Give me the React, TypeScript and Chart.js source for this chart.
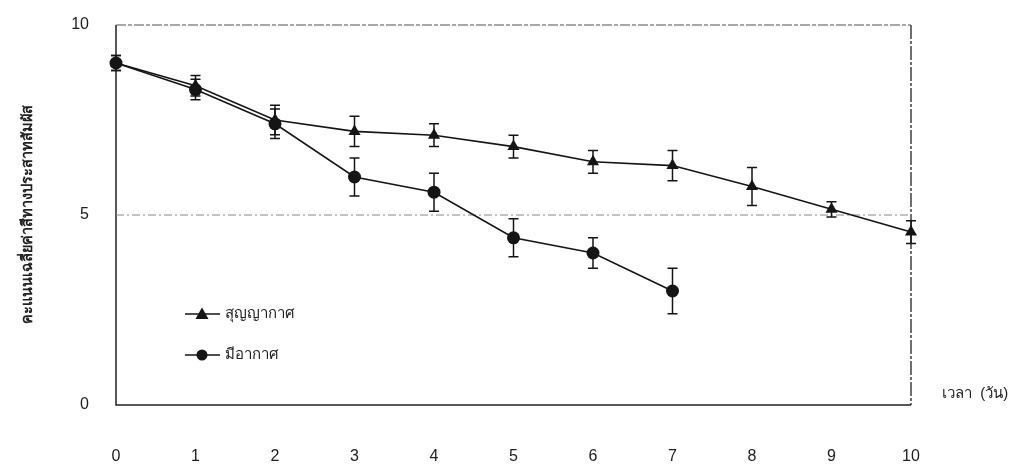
import React, { useEffect, useRef } from "react";
import { Chart, registerables } from "chart.js";

Chart.register(...registerables);

// ---- data ----
const vacuumDays = [0, 1, 2, 3, 4, 5, 6, 7, 8, 9, 10];
const vacuumMean = [9.0, 8.4, 7.5, 7.2, 7.1, 6.8, 6.4, 6.3, 5.75, 5.15, 4.55];
const vacuumErr = [0.2, 0.27, 0.39, 0.4, 0.3, 0.3, 0.3, 0.4, 0.5, 0.2, 0.3];

const airDays = [0, 1, 2, 3, 4, 5, 6, 7];
const airMean = [9.0, 8.3, 7.4, 6.0, 5.6, 4.4, 4.0, 3.0];
const airErr = [0.2, 0.27, 0.39, 0.5, 0.5, 0.5, 0.4, 0.6];

const seriesLabels = ["สุญญากาศ", "มีอากาศ"];
const yTitle = "คะแนนเฉลี่ยค่าสีทางประสาทสัมผัส";
const xTitle = "เวลา  (วัน)";
const xMin = 0;
const xMax = 10;
const yMin = 0;
const yMax = 10;
const yStep = 5;

const INK = "#151515";
const FONT = "'Liberation Sans', Arial, 'Noto Sans', sans-serif";

function App() {
  const ref = useRef<HTMLCanvasElement | null>(null);

  useEffect(() => {
    if (!ref.current) return;

    const errorBars = {
      id: "errorBars",
      beforeDatasetsDraw(chart: any) {
        const { ctx, chartArea, scales } = chart;
        const xs = scales.x;
        const ys = scales.y;
        const { left, right, top, bottom } = chartArea;
        ctx.save();
        // frame
        ctx.lineWidth = 1.5;
        ctx.strokeStyle = "#222";
        ctx.beginPath();
        ctx.moveTo(left, top);
        ctx.lineTo(left, bottom);
        ctx.lineTo(right, bottom);
        ctx.stroke();
        // right border (slightly broken)
        ctx.setLineDash([14, 2, 3, 2]);
        ctx.lineWidth = 1.3;
        ctx.beginPath();
        ctx.moveTo(right, top);
        ctx.lineTo(right, bottom);
        ctx.stroke();
        // top border
        ctx.setLineDash([10, 2, 4, 2]);
        ctx.strokeStyle = "#555";
        ctx.lineWidth = 1.2;
        ctx.beginPath();
        ctx.moveTo(left, top);
        ctx.lineTo(right, top);
        ctx.stroke();
        // mid gridline
        const y5 = ys.getPixelForValue(yStep);
        ctx.setLineDash([8, 3, 2, 3]);
        ctx.strokeStyle = "#888";
        ctx.lineWidth = 1;
        ctx.beginPath();
        ctx.moveTo(left, y5);
        ctx.lineTo(right, y5);
        ctx.stroke();
        ctx.setLineDash([]);

        // error bars
        const sets = [
          { d: vacuumDays, m: vacuumMean, e: vacuumErr },
          { d: airDays, m: airMean, e: airErr },
        ];
        ctx.strokeStyle = INK;
        ctx.lineWidth = 1.5;
        const cap = 5;
        sets.forEach((s) => {
          s.d.forEach((dx, i) => {
            const px = xs.getPixelForValue(dx);
            const yt = ys.getPixelForValue(s.m[i] + s.e[i]);
            const yb = ys.getPixelForValue(s.m[i] - s.e[i]);
            ctx.beginPath();
            ctx.moveTo(px, yt);
            ctx.lineTo(px, yb);
            ctx.moveTo(px - cap, yt);
            ctx.lineTo(px + cap, yt);
            ctx.moveTo(px - cap, yb);
            ctx.lineTo(px + cap, yb);
            ctx.stroke();
          });
        });
        ctx.restore();
      },
      afterDraw(chart: any) {
        const { ctx, chartArea } = chart;
        ctx.save();
        // y title
        ctx.fillStyle = "#222";
        ctx.font = `bold 14.5px ${FONT}`;
        ctx.textAlign = "center";
        ctx.textBaseline = "middle";
        ctx.translate(28, 214);
        ctx.rotate(-Math.PI / 2);
        ctx.fillText(yTitle, 0, 0);
        ctx.restore();

        ctx.save();
        ctx.fillStyle = "#222";
        ctx.font = `15px ${FONT}`;
        ctx.textAlign = "left";
        ctx.textBaseline = "middle";
        ctx.fillText(xTitle, chartArea.right + 31, 394);

        // legend
        const items = [
          { label: seriesLabels[0], style: "triangle", y: 314 },
          { label: seriesLabels[1], style: "circle", y: 355 },
        ];
        ctx.font = `15px ${FONT}`;
        items.forEach((it) => {
          ctx.strokeStyle = INK;
          ctx.fillStyle = INK;
          ctx.lineWidth = 1.6;
          ctx.beginPath();
          ctx.moveTo(185, it.y);
          ctx.lineTo(220, it.y);
          ctx.stroke();
          ctx.beginPath();
          if (it.style === "triangle") {
            ctx.moveTo(202, it.y - 6.5);
            ctx.lineTo(208.5, it.y + 5);
            ctx.lineTo(195.5, it.y + 5);
            ctx.closePath();
          } else {
            ctx.arc(202, it.y, 5.5, 0, Math.PI * 2);
          }
          ctx.fill();
          ctx.fillStyle = "#222";
          ctx.fillText(it.label, 225, it.y);
        });
        ctx.restore();
      },
    };

    const chart = new Chart(ref.current, {
      type: "line",
      data: {
        datasets: [
          {
            label: seriesLabels[0],
            data: vacuumDays.map((d, i) => ({ x: d, y: vacuumMean[i] })),
            borderColor: INK,
            backgroundColor: INK,
            borderWidth: 1.6,
            pointStyle: "triangle",
            pointRadius: 7,
            pointBorderWidth: 0,
            clip: false,
          },
          {
            label: seriesLabels[1],
            data: airDays.map((d, i) => ({ x: d, y: airMean[i] })),
            borderColor: INK,
            backgroundColor: INK,
            borderWidth: 1.6,
            pointStyle: "circle",
            pointRadius: 6.5,
            pointBorderWidth: 0,
            clip: false,
          },
        ],
      },
      options: {
        animation: false,
        responsive: false,
        maintainAspectRatio: false,
        layout: { padding: { left: 0, right: 107, top: 25, bottom: 0 } },
        plugins: {
          legend: { display: false },
          tooltip: { enabled: false },
        },
        scales: {
          x: {
            type: "linear",
            min: xMin,
            max: xMax,
            grid: { display: false, drawTicks: false },
            border: { display: false },
            ticks: {
              stepSize: 1,
              padding: 42,
              color: "#222",
              font: { family: FONT, size: 16 },
            },
            afterFit(scale: any) {
              scale.height = 65;
            },
          },
          y: {
            type: "linear",
            min: yMin,
            max: yMax,
            grid: { display: false, drawTicks: false },
            border: { display: false },
            ticks: {
              stepSize: yStep,
              padding: 27,
              color: "#222",
              font: { family: FONT, size: 16 },
            },
            afterFit(scale: any) {
              scale.width = 116;
              scale.paddingTop = 0;
              scale.paddingBottom = 0;
            },
          },
        },
      },
      plugins: [errorBars],
    });

    return () => chart.destroy();
  }, []);

  return (
    <div style={{ position: "fixed", left: 0, top: 0, width: 1018, height: 470, background: "#fff" }}>
      <canvas ref={ref} width={1018} height={470} style={{ width: 1018, height: 470, display: "block" }} />
    </div>
  );
}

export default App;
